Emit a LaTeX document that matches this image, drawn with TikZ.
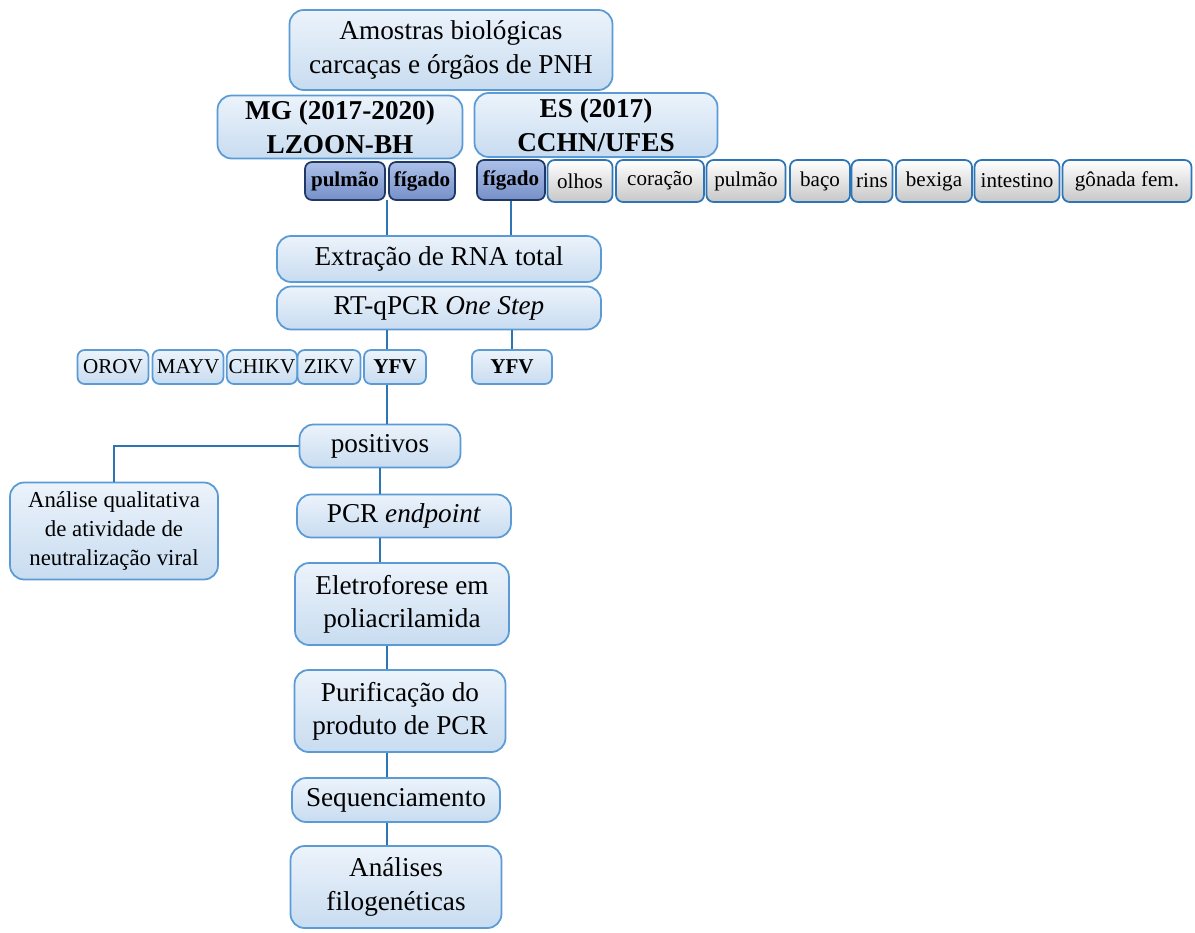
\documentclass[tikz,border=0pt]{standalone}
\usepackage{fontspec}
\setmainfont{Liberation Serif}
\usepackage{tikz}

\definecolor{boxline}{RGB}{91,155,213}
\definecolor{boxtop}{RGB}{236,243,251}
\definecolor{boxbot}{RGB}{200,220,240}
\definecolor{darktop}{RGB}{172,192,232}
\definecolor{darkbot}{RGB}{118,144,200}
\definecolor{darkline}{RGB}{32,56,100}
\definecolor{linkblue}{RGB}{46,117,182}

\tikzset{
  mainbox/.style={rectangle,rounded corners=8pt,draw=boxline,line width=1pt,
    top color=boxtop,bottom color=boxbot,align=center,inner sep=1pt,
    font=\fontsize{15.5}{19}\selectfont},
  organdark/.style={rectangle,rounded corners=4pt,draw=darkline,line width=1pt,
    top color=darktop,bottom color=darkbot,inner sep=1pt,
    font=\fontsize{12}{14}\selectfont\bfseries},
  organgray/.style={rectangle,rounded corners=4pt,draw=linkblue,line width=1pt,
    top color=white,bottom color=black!22,inner sep=1pt,
    font=\fontsize{12}{14}\selectfont},
  virusbox/.style={rectangle,rounded corners=4pt,draw=boxline,line width=1pt,
    top color=boxtop,bottom color=boxbot,inner sep=1pt,
    font=\fontsize{12}{14}\selectfont},
  link/.style={draw=linkblue,line width=1.2pt}
}

\begin{document}
\begin{tikzpicture}[x=0.02cm,y=-0.02cm]
    \useasboundingbox (0,0) rectangle (1195,932);

    % Samples
    \node[mainbox,minimum width=6.46cm,minimum height=1.6cm] (amostras) at (451,50)
      {Amostras biológicas\\carcaças e órgãos de PNH};
    \node[mainbox,font=\fontsize{15.5}{19}\selectfont\bfseries,
      minimum width=4.9cm,minimum height=1.26cm] (mg) at (340,127)
      {MG (2017-2020)\\LZOON-BH};
    \node[mainbox,font=\fontsize{15.5}{19}\selectfont\bfseries,
      minimum width=4.86cm,minimum height=1.28cm] (es) at (596,125)
      {ES (2017)\\CCHN/UFES};

    % Organs MG
    \node[organdark,minimum width=1.6cm,minimum height=0.76cm] (pulmaoMG) at (345,181) {pulmão};
    \node[organdark,minimum width=1.32cm,minimum height=0.76cm] (figadoMG) at (422,181) {fígado};

    % Organs ES
    \node[organdark,minimum width=1.36cm,minimum height=0.8cm] (figadoES) at (511,180) {fígado};
    \node[organgray,minimum width=1.3cm,minimum height=0.84cm] (olhos) at (580,181) {olhos};
    \node[organgray,minimum width=1.76cm,minimum height=0.84cm] (coracao) at (660,181) {coração};
    \node[organgray,minimum width=1.58cm,minimum height=0.84cm] (pulmaoES) at (746,181) {pulmão};
    \node[organgray,minimum width=1.2cm,minimum height=0.84cm] (baco) at (820,181) {baço};
    \node[organgray,minimum width=0.82cm,minimum height=0.84cm] (rins) at (872,181) {rins};
    \node[organgray,minimum width=1.52cm,minimum height=0.84cm] (bexiga) at (934,181) {bexiga};
    \node[organgray,minimum width=1.7cm,minimum height=0.84cm] (intestino) at (1017,181) {intestino};
    \node[organgray,minimum width=2.58cm,minimum height=0.84cm] (gonada) at (1127,181) {gônada fem.};

    % RNA and RT-qPCR
    \node[mainbox,minimum width=6.48cm,minimum height=0.92cm] (extracao) at (439,259)
      {Extração de RNA total};
    \node[mainbox,minimum width=6.48cm,minimum height=0.86cm] (rtpcr) at (439,308)
      {RT-qPCR \textit{One Step}};

    % Viruses
    \node[virusbox,minimum width=1.42cm,minimum height=0.68cm] (orov) at (113,367) {OROV};
    \node[virusbox,minimum width=1.42cm,minimum height=0.68cm] (mayv) at (188,367) {MAYV};
    \node[virusbox,minimum width=1.36cm,minimum height=0.68cm] (chikv) at (262,367) {CHIKV};
    \node[virusbox,minimum width=1.26cm,minimum height=0.68cm] (zikv) at (329,367) {ZIKV};
    \node[virusbox,font=\fontsize{12}{14}\selectfont\bfseries,
      minimum width=1.24cm,minimum height=0.68cm] (yfvMG) at (395,367) {YFV};
    \node[virusbox,font=\fontsize{12}{14}\selectfont\bfseries,
      minimum width=1.6cm,minimum height=0.68cm] (yfvES) at (512,367) {YFV};

    % Positives and next steps
    \node[mainbox,minimum width=3.22cm,minimum height=0.86cm] (positivos) at (380,446)
      {positivos};
    \node[mainbox,font=\fontsize{13}{16.5}\selectfont,
      minimum width=4.16cm,minimum height=1.94cm] (analise) at (114,531)
      {Análise qualitativa\\de atividade de\\neutralização viral};
    \node[mainbox,minimum width=4.28cm,minimum height=0.86cm] (pcr) at (404,516)
      {PCR \textit{endpoint}};
    \node[mainbox,minimum width=4.28cm,minimum height=1.64cm] (eletro) at (402,604)
      {Eletroforese em\\poliacrilamida};
    \node[mainbox,minimum width=4.22cm,minimum height=1.64cm] (purif) at (400,711)
      {Purificação do\\produto de PCR};
    \node[mainbox,minimum width=4.16cm,minimum height=0.88cm] (seq) at (396,800)
      {Sequenciamento};
    \node[mainbox,minimum width=4.22cm,minimum height=1.64cm] (filo) at (396,887)
      {Análises\\filogenéticas};

    % Connectors
    \coordinate (mgjoin) at (387,200);
    \draw[link] (mgjoin) -- (mgjoin |- extracao.north);
    \draw[link] (figadoES.south) -- (figadoES.south |- extracao.north);
    \draw[link] (rtpcr.south -| mgjoin) -- (yfvMG.north -| mgjoin);
    \draw[link] (yfvES.north) -- (yfvES.north |- rtpcr.south);
    \draw[link] (yfvMG.south -| mgjoin) -- (positivos.north -| mgjoin);
    \draw[link] (positivos.west) -| (analise.north);
    \draw[link] (positivos.south) -- (positivos.south |- pcr.north);
    \draw[link] (positivos.south |- pcr.south) -- (positivos.south |- eletro.north);
    \draw[link] (eletro.south -| mgjoin) -- (purif.north -| mgjoin);
    \draw[link] (purif.south -| mgjoin) -- (seq.north -| mgjoin);
    \draw[link] (seq.south -| mgjoin) -- (filo.north -| mgjoin);

  \end{tikzpicture}
\end{document}
